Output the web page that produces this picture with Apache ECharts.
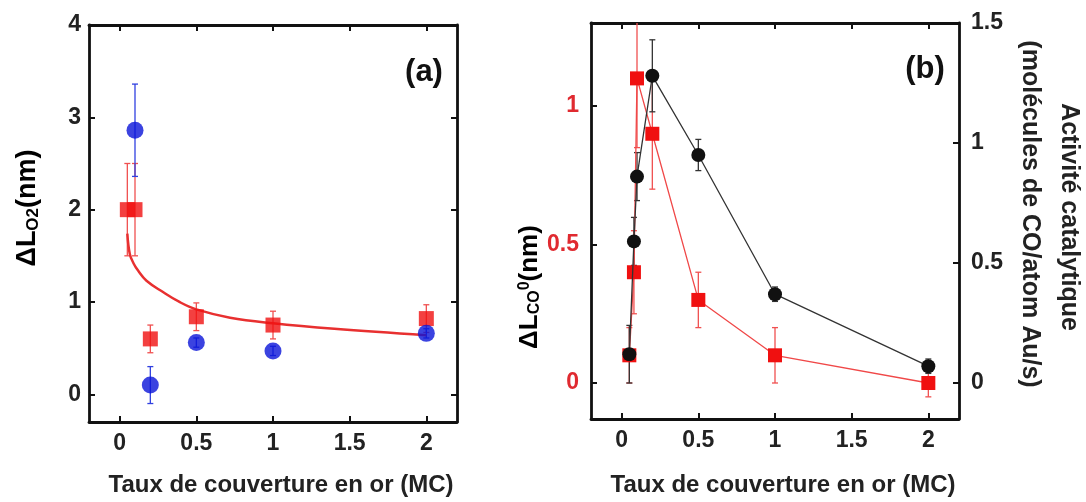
<!DOCTYPE html>
<html>
<head>
<meta charset="utf-8">
<script src="https://cdn.jsdelivr.net/npm/echarts@6/dist/echarts.min.js"></script>
<style>
html,body{margin:0;padding:0;background:#fff;}
#chart{width:1086px;height:502px;}
</style>
</head>
<body>
<div id="chart"></div>
<script>
// ---------- Panel (a) data ----------
const coverA_red = [0.05, 0.1, 0.2, 0.5, 1, 2];
const dLO2_red = [2.0, 2.0, 0.6, 0.84, 0.75, 0.82];
const dLO2_red_err = [0.5, 0.5, 0.15, 0.15, 0.15, 0.15];
const coverA_blue = [0.1, 0.2, 0.5, 1, 2];
const dLO2_blue = [2.86, 0.1, 0.56, 0.47, 0.66];
const dLO2_blue_err = [0.5, 0.2, 0.05, 0.05, 0.05];
const fitX = [0.05, 0.066, 0.09, 0.12, 0.175, 0.28, 0.39, 0.5, 0.72, 1.0, 1.4, 2.0];
const fitY = [1.74, 1.52, 1.42, 1.34, 1.23, 1.11, 1.0, 0.92, 0.83, 0.77, 0.71, 0.64];
// ---------- Panel (b) data ----------
const coverB = [0.05, 0.08, 0.1, 0.2, 0.5, 1, 2];
const dLCO = [0.1, 0.4, 1.1, 0.9, 0.3, 0.1, 0.0];
const dLCO_err = [0.1, 0.15, 0.25, 0.2, 0.1, 0.1, 0.05];
const activity = [0.12, 0.59, 0.86, 1.28, 0.95, 0.37, 0.07];
const activity_err = [0.12, 0.1, 0.1, 0.15, 0.065, 0.03, 0.03];
// ---------- ticks ----------
const xTicks = [0, 0.5, 1, 1.5, 2];
const yTicksA = [0, 1, 2, 3, 4];
const yTicksBLeft = [0, 0.5, 1];
const yTicksBRight = [0, 0.5, 1, 1.5];

const FONT = '"Liberation Sans", Arial, sans-serif';
const RED = '#f01010';
const RED_LINE = '#f04848';
const BLUE = '#0a14d8';
const BLACK = '#111';

function zip(a, b) { return a.map((v, i) => [v, b[i]]); }
function errData(x, y, e) { return x.map((v, i) => [v, y[i] - e[i], y[i] + e[i]]); }

function errRender(color, lw) {
  return function (params, api) {
    const x = api.value(0), lo = api.value(1), hi = api.value(2);
    const cs = params.coordSys;
    const p1 = api.coord([x, lo]), p2 = api.coord([x, hi]);
    const top = cs.y, bot = cs.y + cs.height;
    const y1 = Math.min(Math.max(p1[1], top), bot);
    const y2 = Math.min(Math.max(p2[1], top), bot);
    const c = 3;
    const st = { stroke: color, lineWidth: lw };
    const ch = [{ type: 'line', shape: { x1: p1[0], y1: y1, x2: p2[0], y2: y2 }, style: st }];
    if (p1[1] <= bot) ch.push({ type: 'line', shape: { x1: p1[0] - c, y1: p1[1], x2: p1[0] + c, y2: p1[1] }, style: st });
    if (p2[1] >= top) ch.push({ type: 'line', shape: { x1: p2[0] - c, y1: p2[1], x2: p2[0] + c, y2: p2[1] }, style: st });
    return { type: 'group', children: ch };
  };
}

const frameLine = { show: true, onZero: false, lineStyle: { color: BLACK, width: 2.8 } };
const tickIn = (vals) => ({ show: true, inside: true, length: 6, customValues: vals, lineStyle: { color: BLACK, width: 2 } });
const lbl = (vals, color, margin) => ({ show: true, customValues: vals, color: color, fontSize: 23, fontWeight: 'bold', fontFamily: FONT, margin: margin });

const chart = echarts.init(document.getElementById('chart'), null, { renderer: 'canvas' });
chart.setOption({
  animation: false,
  backgroundColor: '#fff',
  grid: [
    { left: 89, top: 25, width: 368, height: 397, containLabel: false },
    { left: 591, top: 23, width: 368, height: 396, containLabel: false }
  ],
  xAxis: [
    { gridIndex: 0, type: 'value', min: -0.2, max: 2.2, position: 'bottom', axisLine: frameLine, axisTick: tickIn(xTicks), axisLabel: lbl(xTicks, '#222', 10), splitLine: { show: false } },
    { gridIndex: 0, type: 'value', min: -0.2, max: 2.2, position: 'top', axisLine: frameLine, axisTick: tickIn(xTicks), axisLabel: { show: false }, splitLine: { show: false } },
    { gridIndex: 1, type: 'value', min: -0.2, max: 2.2, position: 'bottom', axisLine: frameLine, axisTick: tickIn(xTicks), axisLabel: lbl(xTicks, '#222', 10), splitLine: { show: false } },
    { gridIndex: 1, type: 'value', min: -0.2, max: 2.2, position: 'top', axisLine: frameLine, axisTick: tickIn(xTicks), axisLabel: { show: false }, splitLine: { show: false } }
  ],
  yAxis: [
    { gridIndex: 0, type: 'value', min: -0.3, max: 4, position: 'left', axisLine: frameLine, axisTick: tickIn(yTicksA), axisLabel: lbl(yTicksA, '#222', 8), splitLine: { show: false } },
    { gridIndex: 0, type: 'value', min: -0.3, max: 4, position: 'right', axisLine: frameLine, axisTick: tickIn(yTicksA), axisLabel: { show: false }, splitLine: { show: false } },
    { gridIndex: 1, type: 'value', min: -0.13, max: 1.3, position: 'left', axisLine: frameLine, axisTick: tickIn(yTicksBLeft), axisLabel: lbl(yTicksBLeft, '#e02a30', 12), splitLine: { show: false } },
    { gridIndex: 1, type: 'value', min: -0.15, max: 1.5, position: 'right', axisLine: frameLine, axisTick: tickIn(yTicksBRight), axisLabel: lbl(yTicksBRight, '#222', 12), splitLine: { show: false } }
  ],
  series: [
    // ---- panel (a) ----
    { type: 'custom', xAxisIndex: 0, yAxisIndex: 0, renderItem: errRender('#f05050', 1.3), data: errData(coverA_red, dLO2_red, dLO2_red_err), z: 2 },
    { type: 'custom', xAxisIndex: 0, yAxisIndex: 0, renderItem: errRender('#3040e0', 1.3), data: errData(coverA_blue, dLO2_blue, dLO2_blue_err), z: 2 },
    { type: 'line', xAxisIndex: 0, yAxisIndex: 0, data: zip(fitX, fitY), smooth: 0.4, showSymbol: false, symbol: 'none', lineStyle: { color: '#e83030', width: 2.5 }, z: 3 },
    { type: 'scatter', xAxisIndex: 0, yAxisIndex: 0, data: zip(coverA_red, dLO2_red), symbol: 'rect', symbolSize: 15, itemStyle: { color: RED }, z: 4 },
    { type: 'scatter', xAxisIndex: 0, yAxisIndex: 0, data: zip(coverA_blue, dLO2_blue), symbol: 'circle', symbolSize: 17, itemStyle: { color: BLUE }, z: 4 },
    // ---- panel (b) ----
    { type: 'custom', xAxisIndex: 2, yAxisIndex: 2, renderItem: errRender('#f05050', 1.3), data: errData(coverB, dLCO, dLCO_err), z: 2 },
    { type: 'custom', xAxisIndex: 2, yAxisIndex: 3, renderItem: errRender('#333', 1.3), data: errData(coverB, activity, activity_err), z: 2 },
    { type: 'line', xAxisIndex: 2, yAxisIndex: 2, data: zip(coverB, dLCO), symbol: 'rect', symbolSize: 14, showAllSymbol: true, lineStyle: { color: RED_LINE, width: 1.3 }, itemStyle: { color: RED }, z: 3 },
    { type: 'line', xAxisIndex: 2, yAxisIndex: 3, data: zip(coverB, activity), symbol: 'circle', symbolSize: 14, showAllSymbol: true, lineStyle: { color: '#333', width: 1.3 }, itemStyle: { color: BLACK }, z: 4 }
  ],
  graphic: [
    { type: 'text', x: 424, y: 72, style: { text: '(a)', font: 'bold 31px ' + FONT, fill: '#111', align: 'center', verticalAlign: 'middle' } },
    { type: 'text', x: 925, y: 69, style: { text: '(b)', font: 'bold 31px ' + FONT, fill: '#111', align: 'center', verticalAlign: 'middle' } },
    { type: 'text', x: 281, y: 485, style: { text: 'Taux de couverture en or (MC)', font: 'bold 24px ' + FONT, fill: '#222', align: 'center', verticalAlign: 'middle' } },
    { type: 'text', x: 783, y: 485, style: { text: 'Taux de couverture en or (MC)', font: 'bold 24px ' + FONT, fill: '#222', align: 'center', verticalAlign: 'middle' } },
    { type: 'text', x: 28, y: 208, rotation: Math.PI / 2,
      style: { text: '{a|ΔL}{s|O2}{a|(nm)}', align: 'center', verticalAlign: 'middle',
        rich: { a: { fontSize: 27, fontWeight: 'bold', fontFamily: FONT, color: '#111' },
                s: { fontSize: 17, fontWeight: 'bold', fontFamily: FONT, color: '#111', verticalAlign: 'bottom', padding: [9, 0, 0, 0] } } } },
    { type: 'text', x: 530, y: 287, rotation: Math.PI / 2,
      style: { text: '{a|ΔL}{s|CO}{p|0}{a|(nm)}', align: 'center', verticalAlign: 'middle',
        rich: { a: { fontSize: 26, fontWeight: 'bold', fontFamily: FONT, color: '#e8202a' },
                s: { fontSize: 16, fontWeight: 'bold', fontFamily: FONT, color: '#e8202a', verticalAlign: 'bottom', padding: [9, 0, 0, 0] },
                p: { fontSize: 16, fontWeight: 'bold', fontFamily: FONT, color: '#e8202a', verticalAlign: 'top', padding: [0, 0, 9, 0] } } } },
    { type: 'text', x: 1069, y: 217, rotation: -Math.PI / 2, style: { text: 'Activité catalytique', font: 'bold 25px ' + FONT, fill: '#222', align: 'center', verticalAlign: 'middle' } },
    { type: 'text', x: 1030, y: 214, rotation: -Math.PI / 2, style: { text: '(molécules de CO/atom Au/s)', font: 'bold 25px ' + FONT, fill: '#222', align: 'center', verticalAlign: 'middle' } }
  ]
});
</script>
</body>
</html>
